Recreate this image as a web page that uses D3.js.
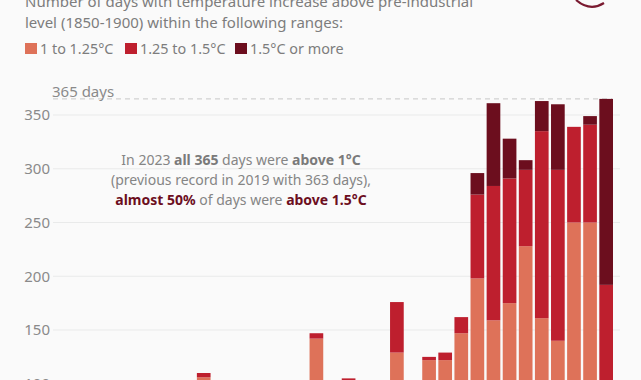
<!DOCTYPE html>
<html lang="en">
<head>
  <meta charset="UTF-8">
  <title>Days above pre-industrial level</title>
  <script src="https://d3js.org/d3.v7.min.js"></script>
  <style>
    body {
      margin: 0;
      padding: 0;
      background: #fafafa;
      overflow: hidden;
    }
    svg text {
      font-family: "Noto Sans", sans-serif;
    }
  </style>
</head>
<body>
  <div id="chart"></div>

  <script>
  // categories
  const years = d3.range(1989, 2024).map(String);

  // days per year in each band (years below 100 days are out of view, estimated)
  const band1 = [20, 45, 40, 15, 10, 25, 55, 20, 70, 106,
                 20, 25, 60, 80, 85, 70, 142, 80, 102, 55,
                 95, 129, 60, 122, 122, 147, 198, 159, 175, 228,
                 161, 140, 250, 250, 98];
  const band2 = [0, 2, 0, 0, 0, 0, 3, 0, 5, 4,
                 0, 0, 2, 5, 6, 3, 5, 3, 3, 1,
                 4, 47, 2, 3, 7, 15, 78, 125, 116, 71,
                 174, 159, 89, 91, 94];
  const band3 = [0, 0, 0, 0, 0, 0, 0, 0, 0, 0,
                 0, 0, 0, 0, 0, 0, 0, 0, 0, 0,
                 0, 0, 0, 0, 0, 0, 20, 77, 37, 9,
                 28, 61, 0, 8, 173];

  const seriesNames = ["1 to 1.25°C", "1.25 to 1.5°C", "1.5°C or more"];
  const yTicks = [100, 150, 200, 250, 300, 350];

  const colors = ["#de7259", "#be1f2e", "#6c0e1e"];

  const width = 641, height = 380;
  const svg = d3.select("#chart").append("svg")
    .attr("width", width)
    .attr("height", height);

  const rows = years.map((y, i) => ({ year: y, b1: band1[i], b2: band2[i], b3: band3[i] }));
  const stacked = d3.stack().keys(["b1", "b2", "b3"])(rows);

  const x = d3.scaleBand().domain(years).range([52, 613]).paddingInner(0.15).paddingOuter(0);
  // the picture is a crop: 100 sits at the bottom edge
  const y = d3.scaleLinear().domain([0, 365]).range([491.25, 98.9]);

  // title (top is cut off)
  const title = svg.append("g").attr("fill", "#7d7d7d").style("font-size", "15px");
  title.append("text").attr("x", 25).attr("y", 7)
    .text("Number of days with temperature increase above pre-industrial");
  title.append("text").attr("x", 25).attr("y", 28)
    .text("level (1850-1900) within the following ranges:");

  // legend
  const legendX = [25, 125, 235];
  const legend = svg.append("g");
  seriesNames.forEach((name, i) => {
    legend.append("rect")
      .attr("x", legendX[i]).attr("y", 43)
      .attr("width", 12).attr("height", 11)
      .attr("fill", colors[i]);
    legend.append("text")
      .attr("x", legendX[i] + 15).attr("y", 54)
      .attr("fill", "#7d7d7d")
      .style("font-size", "14.4px")
      .text(name);
  });

  // logo arc
  svg.append("path")
    .attr("d", "M576,0 Q590,12 604,3")
    .attr("fill", "none")
    .attr("stroke", "#7a1a30")
    .attr("stroke-width", 2.2);

  // gridlines
  svg.append("g").selectAll("line")
    .data(yTicks)
    .join("line")
    .attr("x1", 53).attr("x2", 620)
    .attr("y1", d => y(d)).attr("y2", d => y(d))
    .attr("stroke", "#e9eaea")
    .attr("stroke-width", 1);

  // y labels
  svg.append("g").selectAll("text")
    .data(yTicks)
    .join("text")
    .attr("x", 50)
    .attr("y", d => y(d))
    .attr("dy", "0.36em")
    .attr("text-anchor", "end")
    .attr("fill", "#8a8a8a")
    .style("font-size", "15px")
    .text(d => d);

  // 365 reference line
  svg.append("line")
    .attr("x1", 53).attr("x2", 612)
    .attr("y1", y(365)).attr("y2", y(365))
    .attr("stroke", "#c8c8c8")
    .attr("stroke-dasharray", "5,4");
  svg.append("text")
    .attr("x", 52).attr("y", y(365) - 2)
    .attr("fill", "#8a8a8a")
    .style("font-size", "15px")
    .text("365 days");

  // bars
  svg.append("g").selectAll("g")
    .data(stacked)
    .join("g")
    .attr("fill", (d, i) => colors[i])
    .selectAll("rect")
    .data(d => d)
    .join("rect")
    .attr("x", d => x(d.data.year))
    .attr("width", x.bandwidth())
    .attr("y", d => y(d[1]))
    .attr("height", d => Math.max(0, y(d[0]) - y(d[1])));

  // annotation
  const note = svg.append("text")
    .attr("text-anchor", "middle")
    .attr("fill", "#858585")
    .style("font-size", "14px");
  const noteLines = [
    [["In 2023 ", ""], ["all 365", "b"], [" days were ", ""], ["above 1°C", "b"]],
    [["(previous record in 2019 with 363 days),", ""]],
    [["almost 50%", "r"], [" of days were ", ""], ["above 1.5°C", "r"]]
  ];
  noteLines.forEach((parts, li) => {
    const line = note.append("tspan").attr("x", 241).attr("y", 165 + li * 20);
    parts.forEach(([t, s]) => {
      const ts = line.append("tspan").text(t);
      if (s === "b") ts.attr("font-weight", "bold").attr("fill", "#7a7a7a");
      if (s === "r") ts.attr("font-weight", "bold").attr("fill", "#6c0e1e");
    });
  });
  </script>
</body>
</html>
